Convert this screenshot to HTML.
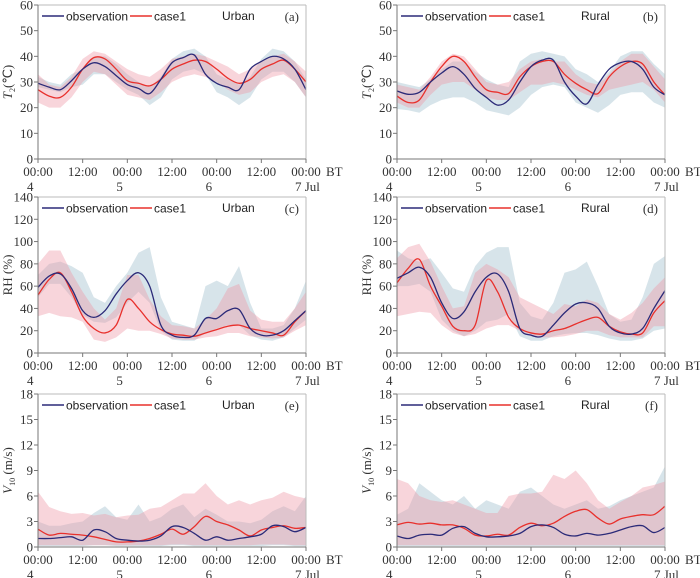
<!DOCTYPE html>
<html><head><meta charset="utf-8"><style>
html,body{margin:0;padding:0;background:#fff;}
svg{display:block;}
.tk{font-family:"Liberation Serif",serif;font-size:13px;fill:#333;}
.lg{font-family:"Liberation Sans",sans-serif;font-size:12px;fill:#222;}
</style></head><body>
<svg id="chart" width="700" height="578" viewBox="0 0 700 578"></svg>
<script>
const hours=[0,3,6,9,12,15,18,21,24,27,30,33,36,39,42,45,48,51,54,57,60,63,66,69,72];
const xTickLabels=["00:00","12:00","00:00","12:00","00:00","12:00","00:00"];
const dateLabels=["4","5","6","7  Jul"];
// panel a
const aObs=[29.5,28,27,30.5,35,37.5,36,32.5,29,27.5,25.5,31,37.5,39.5,40.5,33,29.5,28,27,35,38,40,39,35,27];
const aSim=[27,24.5,24,28,35,39.5,39,35,30.5,29.5,28.5,31,35,37,38.5,38,35,31.5,29.5,31,35,37,38.5,35,30];
const aObsLo=[28,27,26,28,29,33,33,30,27,25,21,24,31,34,35,33,26,24,21,24,31,34,34,30,24];
const aObsHi=[32,30,29,33,35,40,40,37,33,30,28,32,39,42,43,40,33,31,29,32,39,43,42,38,31];
const aSimLo=[22,20,20,24,30,34,33,29,25,24,23,26,30,32,33,32,30,27,25,26,30,32,33,30,24];
const aSimHi=[33,29,28,32,39,42,41,38,35,33,32,35,39,40,41,40,38,36,33,35,38,40,41,38,34];
// panel b
const bObs=[26.5,25.2,26,30,33.5,36,33,27.5,24,21,23,30,36,38.5,38.5,30,24.5,21.5,29,35,37.5,38,35,28,25];
const bSim=[24.5,22,23,30,36,40,38,32,27,26,25.5,32,36,38,38,33,29.5,27,25.5,32,36,38,37,30,25];
const bObsLo=[19.5,19,18,21,23,24,24,22,19,18,17,20,25,28,29,28,22,20,18,21,25,26,26,22,20];
const bObsHi=[30,29,28,31,35,38,38,34,31,29,28,38,41,42,41,40,35,33,30,34,40,42,42,37,33];
const bSimLo=[22,20,20,25,29,30,30,27,24,23,23,26,29,29,30,29,27,25,24,27,28,29,30,27,22];
const bSimHi=[29,28,27,32,38,41,40,35,30,29,30,35,38,39,38,38,33,30,29,33,38,41,41,36,31];
// panel c
const cObs=[59,69,71,58,38,32,38,53,65,72,60,25,16,14,16,31,31,38,39,22,16,16,20,29,38];
const cSim=[52,66,72,55,33,22,18,25,48,40,28,21,17,16,15,18,21,24,25,22,20,18,16,28,38];
const cObsLo=[50,62,62,50,34,28,27,32,45,55,45,20,12,11,11,18,22,25,25,16,12,11,14,22,30];
const cObsHi=[70,80,82,78,72,50,45,60,72,90,95,50,28,25,22,60,65,60,78,45,22,22,25,40,65];
const cSimLo=[33,36,33,32,28,12,10,14,22,20,20,17,13,12,12,14,15,18,18,15,14,13,14,20,25];
const cSimHi=[80,92,92,72,55,40,30,40,70,70,48,33,25,24,22,30,40,58,62,38,30,28,28,40,55];
// panel d
const dObs=[67,72,77,68,45,31,37,55,68,71,55,22,16,15,25,36,44,45,40,24,18,17,22,40,56];
const dSim=[63,76,84,60,42,24,20,25,65,55,32,22,18,17,20,22,26,30,32,24,19,17,18,36,47];
const dObsLo=[60,60,62,55,30,20,15,20,28,30,35,15,11,11,15,17,18,18,16,13,11,11,13,20,22];
const dObsHi=[92,85,82,85,72,58,55,78,90,95,95,45,33,30,45,72,75,82,60,35,28,30,50,80,87];
const dSimLo=[33,35,37,36,25,18,15,17,22,25,25,20,15,14,14,15,17,20,20,16,14,14,14,24,24];
const dSimHi=[85,95,98,82,60,40,42,72,80,75,68,50,45,40,35,44,42,48,45,35,30,36,45,58,68];
// panel e
const eObs=[1,1,1.1,1.2,0.8,2,1.8,1,0.8,0.7,0.8,1.3,2.4,2.3,1.6,0.8,1.2,0.8,1,1.2,1.5,2.5,2.4,1.8,2.3];
const eSim=[2.1,1.4,1.6,1.5,1.4,1.2,0.9,0.6,0.6,0.7,1,1.5,2.1,1.5,2.4,3.6,3,2.6,2,1.3,2,2.3,2.5,2.2,2.3];
const eObsLo=[0.1,0.1,0.1,0.1,0.1,0.2,0.2,0.1,0.1,0.1,0.1,0.1,0.2,0.2,0.1,0.1,0.1,0.1,0.1,0.1,0.1,0.2,0.2,0.1,0.1];
const eObsHi=[3,2.5,2.5,2.8,3,4,4.8,3.5,3.2,5,3,3.5,4.5,5,3.5,4.5,3.8,3,3,2.8,3.2,4.2,4.8,4.2,6];
const eSimLo=[0.2,0.2,0.2,0.2,0.2,0.2,0.2,0.2,0.2,0.2,0.2,0.2,0.3,0.3,0.2,0.2,0.2,0.2,0.2,0.2,0.3,0.3,0.3,0.2,0.2];
const eSimHi=[6.5,4.7,4.2,3.9,4,3.7,3.9,3.5,3.7,3.8,4.5,4.7,5.5,6.3,6.3,7.5,6,5,5.5,5,5.5,5.8,6.5,6,5.7];
// panel f
const fObs=[1.3,1,1.4,1.5,1.4,2.2,2.4,1.6,1.2,1.2,1.3,1.6,2.4,2.6,2.3,1.5,1.3,1.6,1.4,1.6,2,2.4,2.5,1.7,2.3];
const fSim=[2.6,2.9,2.7,2.8,2.6,2.6,2.2,1.4,1.3,1.5,1.4,2.3,2.8,2.5,2.8,3.6,4.2,4.4,3.4,2.7,3.3,3.6,3.8,3.8,4.8];
const fObsLo=[0.1,0.1,0.1,0.1,0.1,0.1,0.1,0.1,0.1,0.1,0.1,0.1,0.1,0.1,0.1,0.1,0.1,0.1,0.1,0.1,0.1,0.1,0.1,0.1,0.1];
const fObsHi=[3.8,4.5,7.5,6.5,5.5,5,6,4.5,5.5,5,4.5,6.5,7,6,5,4.5,5,5.5,4.5,4.8,5.5,6,6.5,7,9.5];
const fSimLo=[0.2,0.2,0.2,0.2,0.2,0.2,0.2,0.2,0.2,0.2,0.2,0.2,0.2,0.2,0.2,0.2,0.2,0.2,0.2,0.2,0.2,0.2,0.2,0.2,0.2];
const fSimHi=[8,7.5,6,5.5,5.3,5.5,5,4.5,4,4,6,6.3,6.3,6.5,8.5,8,9,7.5,5.5,4.5,5.3,6,7,7.3,7.7];

const tTicks=[0,10,20,30,40,50,60];
const rhTicks=[0,20,40,60,80,100,120,140];
const vTicks=[0,3,6,9,12,15,18];

const NS="http://www.w3.org/2000/svg";
const svg=document.getElementById('chart');
function mk(tag,attrs,parent,txt){const e=document.createElementNS(NS,tag);for(const k in attrs)e.setAttribute(k,attrs[k]);if(txt!==undefined)e.textContent=txt;(parent||svg).appendChild(e);return e;}
function smooth(pts){
  let d='M'+pts[0][0]+','+pts[0][1];
  for(let i=0;i<pts.length-1;i++){
    const p0=pts[Math.max(0,i-1)],p1=pts[i],p2=pts[i+1],p3=pts[Math.min(pts.length-1,i+2)];
    const c1x=p1[0]+(p2[0]-p0[0])/6,c1y=p1[1]+(p2[1]-p0[1])/6;
    const c2x=p2[0]-(p3[0]-p1[0])/6,c2y=p2[1]-(p3[1]-p1[1])/6;
    d+=` C${c1x},${c1y} ${c2x},${c2y} ${p2[0]},${p2[1]}`;
  }
  return d;
}

const panels=[
 {id:'a',x0:38,x1:306,y0:5,y1:159,ticks:tTicks,max:60,site:'Urban',ylab:'T',obs:aObs,sim:aSim,oLo:aObsLo,oHi:aObsHi,sLo:aSimLo,sHi:aSimHi},
 {id:'b',x0:397,x1:665,y0:5,y1:159,ticks:tTicks,max:60,site:'Rural',ylab:'T',obs:bObs,sim:bSim,oLo:bObsLo,oHi:bObsHi,sLo:bSimLo,sHi:bSimHi},
 {id:'c',x0:38,x1:306,y0:197,y1:353,ticks:rhTicks,max:140,site:'Urban',ylab:'RH',obs:cObs,sim:cSim,oLo:cObsLo,oHi:cObsHi,sLo:cSimLo,sHi:cSimHi},
 {id:'d',x0:397,x1:665,y0:197,y1:353,ticks:rhTicks,max:140,site:'Rural',ylab:'RH',obs:dObs,sim:dSim,oLo:dObsLo,oHi:dObsHi,sLo:dSimLo,sHi:dSimHi},
 {id:'e',x0:38,x1:306,y0:394,y1:547,ticks:vTicks,max:18,site:'Urban',ylab:'V',obs:eObs,sim:eSim,oLo:eObsLo,oHi:eObsHi,sLo:eSimLo,sHi:eSimHi},
 {id:'f',x0:397,x1:665,y0:394,y1:547,ticks:vTicks,max:18,site:'Rural',ylab:'V',obs:fObs,sim:fSim,oLo:fObsLo,oHi:fObsHi,sLo:fSimLo,sHi:fSimHi}
];

panels.forEach(p=>{
  const g=mk('g',{});
  
  
  const X=h=>p.x0+(p.x1-p.x0)*h/72;
  const Y=v=>p.y1-(p.y1-p.y0)*v/p.max;
  const band=(lo,hi,fill,name)=>{
    let d='M'+hours.map((h,i)=>X(h)+','+Y(hi[i])).join(' L');
    d+=' L'+hours.slice().reverse().map((h,i)=>X(h)+','+Y(lo[lo.length-1-i])).join(' L')+'Z';
    const e=mk('path',{d:d,fill:fill,stroke:'none'},g);
    
    
  };
  band(p.oLo,p.oHi,'rgba(160,190,205,0.42)','observation-range-band');
  band(p.sLo,p.sHi,'rgba(238,150,165,0.40)','case1-range-band');
  const line=(vals,col,name)=>{
    const e=mk('path',{d:smooth(hours.map((h,i)=>[X(h),Y(vals[i])])),fill:'none',stroke:col,'stroke-width':1.3,'stroke-linejoin':'round'},g);
    
    
  };
  line(p.sim,'#e8302c','case1-line');
  line(p.obs,'#2b2a78','observation-line');
  mk('line',{x1:p.x0,y1:p.y0,x2:p.x1,y2:p.y0,stroke:'#bbb','stroke-width':1},g);
  mk('line',{x1:p.x1,y1:p.y0,x2:p.x1,y2:p.y1,stroke:'#bbb','stroke-width':1},g);
  mk('line',{x1:p.x0,y1:p.y0,x2:p.x0,y2:p.y1,stroke:'#777','stroke-width':1},g);
  mk('line',{x1:p.x0,y1:p.y1,x2:p.x1,y2:p.y1,stroke:'#777','stroke-width':1},g);
  p.ticks.forEach(t=>{
    mk('line',{x1:p.x0-4,y1:Y(t),x2:p.x0,y2:Y(t),stroke:'#777'},g);
    const e=mk('text',{x:p.x0-5,y:Y(t)+4.5,'text-anchor':'end',class:'tk'},g,String(t));
    
    
  });
  xTickLabels.forEach((l,i)=>{
    const xx=X(i*12);
    mk('line',{x1:xx,y1:p.y1,x2:xx,y2:p.y1+4,stroke:'#777'},g);
    const e=mk('text',{x:xx,y:p.y1+17,'text-anchor':'middle',class:'tk'},g,l);
    
    
  });
  mk('text',{x:p.x1+20,y:p.y1+17,class:'tk'},g,'BT');
  dateLabels.forEach((l,i)=>{
    const e=mk('text',{x:X(i*24)-11,y:p.y1+32,class:'tk'},g,l);
    
    
  });
  const cy=(p.y0+p.y1)/2, tx=p.x0-26;
  const yt=mk('text',{x:0,y:0,transform:`translate(${tx},${cy}) rotate(-90)`,'text-anchor':'middle',class:'tk'},g);
  
  
  if(p.ylab==='T'){
    mk('tspan',{'font-style':'italic'},yt,'T');
    mk('tspan',{'font-size':'8',dy:'3'},yt,'2');
    mk('tspan',{dy:'-3'},yt,'(℃)');
  }else if(p.ylab==='RH'){
    yt.textContent='RH (%)';
  }else{
    mk('tspan',{'font-style':'italic'},yt,'V');
    mk('tspan',{'font-size':'8',dy:'3'},yt,'10');
    mk('tspan',{dy:'-3'},yt,' (m/s)');
  }
  const ly=p.y0+11;
  mk('line',{x1:p.x0+4,y1:ly,x2:p.x0+26,y2:ly,stroke:'#2b2a78','stroke-width':1.5},g);
  const l1=mk('text',{x:p.x0+28,y:ly+4.5,class:'lg'},g,'observation');
  
  
  mk('line',{x1:p.x0+92,y1:ly,x2:p.x0+114,y2:ly,stroke:'#e8302c','stroke-width':1.5},g);
  const l2=mk('text',{x:p.x0+116,y:ly+4.5,class:'lg'},g,'case1');
  
  
  const s=mk('text',{x:p.x0+184,y:ly+4,class:'lg'},g,p.site);
  
  
  const pl=mk('text',{x:p.x1-7,y:ly+5,'text-anchor':'end',class:'tk'},g,'('+p.id+')');
  
  
});
</script>
</body></html>
